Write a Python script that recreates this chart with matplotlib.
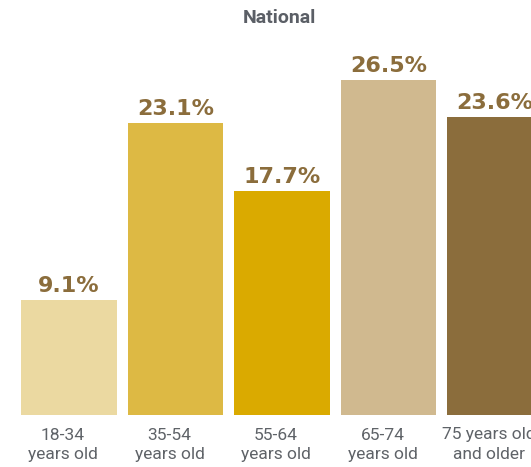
import matplotlib.pyplot as plt
import matplotlib.transforms as mtransforms

import numpy as np

# Data
age_groups = ["18-34\nyears old", "35-54\nyears old", "55-64\nyears old",
              "65-74\nyears old", "75 years old\nand older"]
shares = [9.1, 23.1, 17.7, 26.5, 23.6]
bar_colors = ["#EBD9A1", "#DDB944", "#DAAA00", "#D0B98F", "#8B6D3C"]


def main():
    fig = plt.figure(figsize=(5.31, 4.67), dpi=100)
    # axes run a little past the right edge, so the last bar is cut like the original
    ax = fig.add_axes([15.75 / 531, 52 / 467, 532.5 / 531, 375 / 467])

    x = np.arange(len(shares))
    bars = ax.bar(x, shares, width=0.9, color=bar_colors)

    for bar, val in zip(bars, shares):
        ax.annotate(f"{val}%", (bar.get_x() + bar.get_width() / 2, val),
                    xytext=(0, 3), textcoords="offset points",
                    ha="center", va="bottom", fontsize=16, fontweight="bold",
                    color="#8B6D3C", family="DejaVu Sans")

    ax.set_xlim(-0.5, 4.5)
    ax.set_ylim(0, 375 / 12.64)
    ax.set_xticks(x)
    ax.set_xticklabels(age_groups, fontsize=12.5, color="#5F6368", family="Roboto",
                       linespacing=1.4)
    ax.tick_params(axis="x", length=0, pad=9)
    # labels sit slightly left of the bar centres in the original
    shift = mtransforms.ScaledTranslation(-6 / 100, 0, fig.dpi_scale_trans)
    for lbl in ax.get_xticklabels():
        lbl.set_transform(lbl.get_transform() + shift)
    ax.set_yticks([])
    for side in ax.spines.values():
        side.set_visible(False)

    fig.text(279 / 531, 1 - 18 / 467, "National", ha="center", va="center",
             fontsize=14, fontweight="bold", color="#5B5F66", family="Roboto")

    plt.savefig("out.png", dpi=100)


if __name__ == "__main__":
    main()
